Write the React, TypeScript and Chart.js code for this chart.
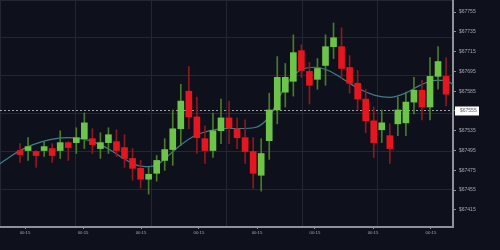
import React, { useEffect, useRef } from 'react';
import { Chart, registerables } from 'chart.js';
Chart.register(...registerables);

const opens = [67615, 67615, 67614, 67615, 67617, 67615, 67623, 67623, 67627, 67627, 67617, 67623, 67624, 67618, 67607, 67597, 67586, 67592, 67605, 67616, 67637, 67675, 67649, 67627, 67615, 67635, 67648, 67637, 67628, 67614, 67590, 67625, 67656, 67674, 67685, 67716, 67695, 67687, 67701, 67720, 67720, 67699, 67683, 67667, 67645, 67636, 67630, 67642, 67643, 67664, 67676, 67659, 67690, 67690];
const highs = [67622, 67628, 67615, 67624, 67622, 67635, 67624, 67638, 67653, 67637, 67633, 67638, 67636, 67631, 67617, 67605, 67598, 67610, 67627, 67656, 67682, 67700, 67669, 67640, 67653, 67667, 67665, 67648, 67646, 67628, 67627, 67673, 67710, 67703, 67732, 67722, 67704, 67708, 67732, 67744, 67739, 67711, 67696, 67677, 67659, 67656, 67642, 67669, 67674, 67689, 67686, 67709, 67720, 67709];
const lows = [67603, 67605, 67598, 67609, 67603, 67607, 67605, 67612, 67617, 67612, 67607, 67612, 67609, 67598, 67585, 67577, 67571, 67584, 67595, 67600, 67620, 67637, 67612, 67602, 67608, 67622, 67622, 67617, 67602, 67577, 67574, 67606, 67642, 67659, 67670, 67689, 67662, 67677, 67681, 67708, 67688, 67673, 67656, 67633, 67608, 67623, 67602, 67630, 67630, 67652, 67646, 67646, 67677, 67660];
const closes = [67611, 67619, 67610, 67619, 67610, 67623, 67618, 67628, 67643, 67621, 67623, 67631, 67615, 67607, 67597, 67586, 67591, 67605, 67616, 67637, 67665, 67649, 67628, 67615, 67635, 67648, 67638, 67628, 67614, 67592, 67612, 67656, 67689, 67689, 67714, 67696, 67681, 67698, 67720, 67729, 67698, 67683, 67667, 67645, 67623, 67643, 67617, 67656, 67664, 67676, 67659, 67690, 67705, 67672];

const maIndex = [-2.49, -1.24, 0, 1.62, 3.73, 5.85, 7.46, 8.71, 9.95, 11.19, 12.69, 14.3, 15.55, 16.79, 18.03, 19.9, 21.77, 23.63, 25.5, 27.36, 29.23, 30.47, 31.34, 32.34, 33.58, 34.83, 36.69, 38.56, 40.42, 42.29, 44.15, 46.02, 47.89, 49.75, 51.62, 52.86, 53.86];
const maValues = [67601.7, 67608.8, 67614.9, 67621.0, 67626.1, 67628.1, 67627.1, 67625.1, 67621.0, 67615.9, 67607.8, 67600.7, 67598.7, 67599.7, 67606.8, 67620.0, 67630.2, 67635.2, 67637.3, 67637.3, 67638.3, 67644.4, 67653.5, 67670.8, 67687.0, 67696.1, 67699.2, 67695.1, 67686.0, 67676.9, 67670.8, 67668.7, 67672.8, 67680.9, 67686.0, 67686.0, 67681.9];

const priceTicks = [67755, 67735, 67715, 67695, 67675, 67655, 67635, 67615, 67595, 67575, 67555];
const priceTickLabels = ['$67755', '$67735', '$67715', '$67695', '$67585', '$67555', '$67535', '$67495', '$67475', '$67455', '$67415'];
const timeTickIndex = [0.62, 7.84, 15.05, 22.26, 29.48, 36.69, 43.91, 51.12];
const timeTickLabel = '00:15';
const currentPrice = 67655.5;
const currentPriceLabel = '$67555';

const BG = '#0e111b';
const GRID = '#232733';
const AXIS = '#8e9198';
const TEXT = '#a6a9b0';
const UP = '#6cc449';
const DOWN = '#e6161f';
const UP_WICK = '#4a7b2b';
const DOWN_WICK = '#8a1a1e';

const noPad = (s: any) => {
  s.paddingTop = 0;
  s.paddingBottom = 0;
  s.paddingLeft = 0;
  s.paddingRight = 0;
};

export default function App() {
  const ref = useRef<HTMLCanvasElement | null>(null);
  useEffect(() => {
    const canvas = ref.current;
    if (!canvas) return;
    const isUp = (i: number) => closes[i] >= opens[i];

    const priceLine = {
      id: 'priceLine',
      beforeDatasetsDraw(chart: any) {
        const { ctx, chartArea } = chart;
        const y = Math.round(chart.scales.y.getPixelForValue(currentPrice)) + 0.5;
        ctx.save();
        ctx.strokeStyle = '#a3a6ad';
        ctx.lineWidth = 1;
        ctx.setLineDash([2, 2]);
        ctx.beginPath();
        ctx.moveTo(chartArea.left, y);
        ctx.lineTo(chartArea.right, y);
        ctx.stroke();
        ctx.restore();
      },
      afterDraw(chart: any) {
        const { ctx, chartArea } = chart;
        const y = chart.scales.y.getPixelForValue(currentPrice);
        ctx.save();
        ctx.fillStyle = '#ffffff';
        ctx.fillRect(chartArea.right + 2, y - 4, 24, 9);
        ctx.fillStyle = '#5a5d63';
        ctx.font = '5px Arial';
        ctx.textBaseline = 'middle';
        ctx.textAlign = 'left';
        ctx.fillText(currentPriceLabel, chartArea.right + 7, y + 0.5);
        ctx.restore();
      },
    };

    const chart = new Chart(canvas, {
      type: 'bar',
      data: {
        datasets: [
          {
            type: 'bar',
            label: 'body',
            data: opens.map((o, i) => ({ x: i, y: [o, closes[i]] })) as any,
            backgroundColor: opens.map((_, i) => (isUp(i) ? UP : DOWN)),
            barThickness: 6,
            grouped: false,
            borderWidth: 0,
            order: 0,
          } as any,
          {
            type: 'bar',
            label: 'wick',
            data: opens.map((_, i) => ({ x: i, y: [lows[i], highs[i]] })) as any,
            backgroundColor: opens.map((_, i) => (isUp(i) ? UP_WICK : DOWN_WICK)),
            barThickness: 1,
            grouped: false,
            borderWidth: 0,
            order: 1,
          } as any,
          {
            type: 'line',
            label: 'ma',
            data: maIndex.map((x, i) => ({ x, y: maValues[i] })) as any,
            borderColor: '#3f7d8c',
            borderWidth: 1.2,
            pointRadius: 0,
            cubicInterpolationMode: 'monotone',
            order: 2,
          } as any,
        ],
      },
      options: {
        animation: false,
        responsive: false,
        maintainAspectRatio: false,
        layout: { padding: 0 },
        plugins: { legend: { display: false }, tooltip: { enabled: false } },
        scales: {
          x: {
            type: 'linear',
            position: 'bottom',
            offset: false,
            min: -2.49,
            max: 53.86,
            afterBuildTicks: (s: any) => {
              s.ticks = timeTickIndex.map((v) => ({ value: v }));
            },
            afterFit: (s: any) => {
              s.height = 23;
              noPad(s);
            },
            ticks: {
              callback: () => timeTickLabel,
              color: TEXT,
              font: { size: 4.3, family: 'Arial' },
              padding: 1,
              maxRotation: 0,
              autoSkip: false,
            },
            grid: { offset: false, drawOnChartArea: false, drawTicks: true, tickLength: 2, color: AXIS, lineWidth: 1 },
            border: { display: true, color: AXIS, width: 2 },
          },
          y: {
            type: 'linear',
            position: 'right',
            offset: false,
            min: 67537.7,
            max: 67767.2,
            afterBuildTicks: (s: any) => {
              s.ticks = priceTicks.map((v) => ({ value: v }));
            },
            afterFit: (s: any) => {
              s.width = 47;
              noPad(s);
            },
            ticks: {
              callback: (v: any) => priceTickLabels[priceTicks.indexOf(Number(v))] ?? '',
              color: TEXT,
              font: { size: 5, family: 'Arial' },
              padding: 3,
              autoSkip: false,
            },
            grid: { drawOnChartArea: false, drawTicks: true, tickLength: 3, color: AXIS, lineWidth: 1 },
            border: { display: true, color: AXIS, width: 2 },
          },
          gx: {
            type: 'linear',
            position: 'top',
            offset: false,
            min: 0,
            max: 6,
            ticks: { display: false, stepSize: 1 },
            grid: { offset: false, color: GRID, drawTicks: false, lineWidth: 1 },
            border: { display: false },
            afterFit: (s: any) => {
              s.height = 0;
              noPad(s);
            },
          },
          gy: {
            type: 'linear',
            position: 'left',
            offset: false,
            min: 0,
            max: 6,
            ticks: { display: false, stepSize: 1 },
            grid: { offset: false, color: GRID, drawTicks: false, lineWidth: 1 },
            border: { display: false },
            afterFit: (s: any) => {
              s.width = 0;
              noPad(s);
            },
          },
        },
      } as any,
      plugins: [priceLine],
    });
    return () => chart.destroy();
  }, []);

  return (
    <div style={{ position: 'fixed', left: 0, top: 0, width: 500, height: 250, background: BG }}>
      <canvas ref={ref} width={500} height={250} style={{ display: 'block', width: 500, height: 250 }} />
    </div>
  );
}
